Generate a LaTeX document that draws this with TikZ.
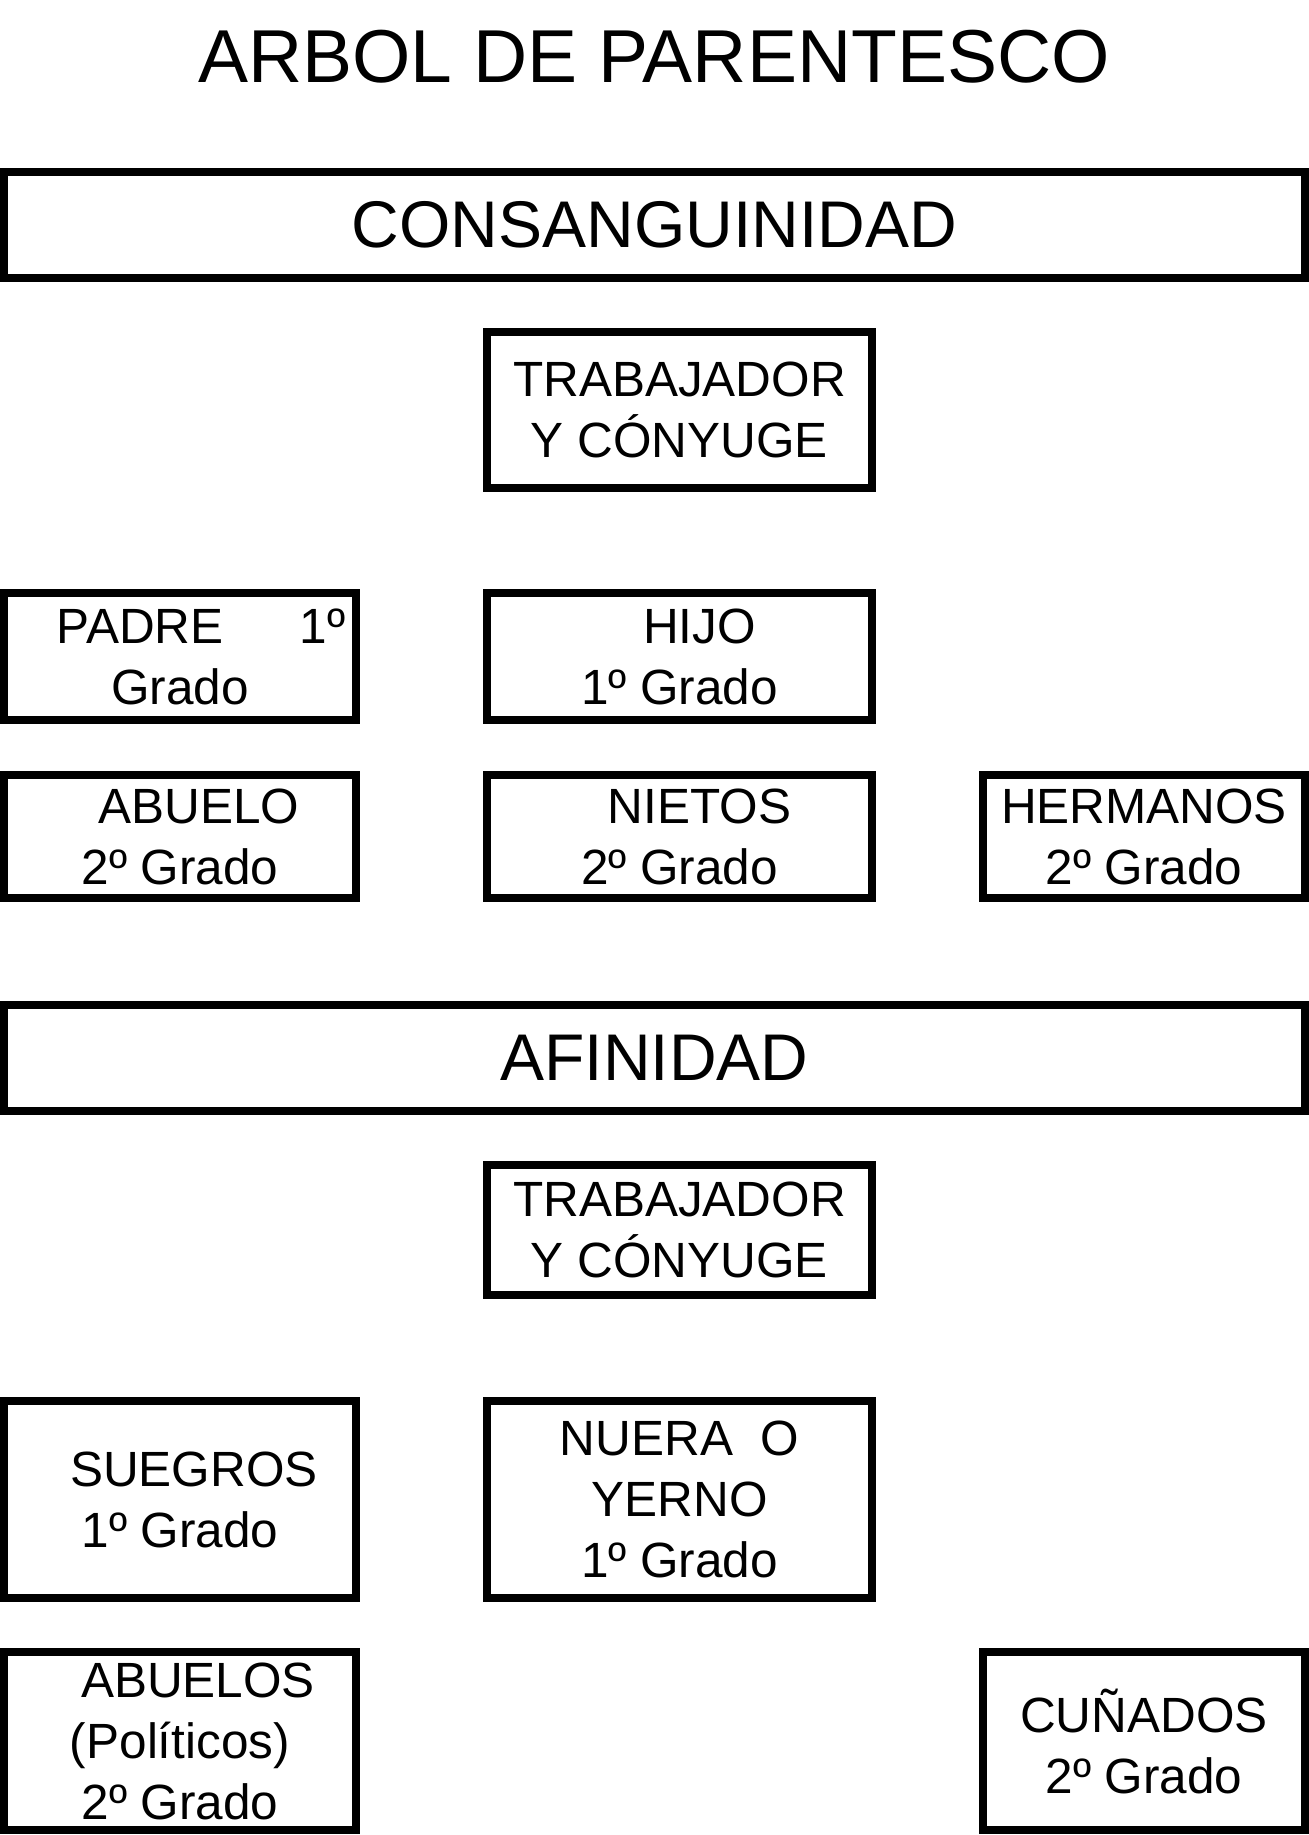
\documentclass[tikz,border=0pt]{standalone}
\usepackage{fontspec}
\setmainfont{Liberation Sans}

\tikzset{
  kinbox/.style={draw, line width=4pt, inner sep=0pt, align=center,
    font=\fontsize{24.75pt}{30.5pt}\selectfont},
  leftbox/.style={kinbox, minimum width=176pt},
  midbox/.style={kinbox, minimum width=192.5pt},
  rightbox/.style={kinbox, minimum width=161pt},
  headbox/.style={draw, line width=4pt, inner sep=0pt,
    minimum width=650.5pt, minimum height=53pt,
    font=\fontsize{33pt}{40pt}\selectfont},
}

\begin{document}
\begin{tikzpicture}[x=0.5pt, y=-0.5pt]
  \useasboundingbox (0,0) rectangle (1309,1835);
  \node[anchor=base, font=\fontsize{37.5pt}{44pt}\selectfont] (titulo) at (654,83) {ARBOL DE PARENTESCO};

  % consanguinidad
  \node[headbox] (consang) at (654.5,225) {CONSANGUINIDAD};
  \node[midbox, minimum height=77.75pt] (trab) at (679.5,409.75) {TRABAJADOR\\Y CÓNYUGE};
  \node[leftbox, minimum height=63.5pt] (padre) at (180,656.5) {\hspace*{21pt}PADRE\hspace{38pt}1º\\Grado};
  \node[midbox, minimum height=63.5pt] (hijo) at (679.5,656.5) {\hspace*{20pt}HIJO\\1º Grado};
  \node[leftbox, minimum height=61.5pt] (abuelo) at (180,836.5) {\hspace*{19pt}ABUELO\\2º Grado};
  \node[midbox, minimum height=61.5pt] (nietos) at (679.5,836.5) {\hspace*{20pt}NIETOS\\2º Grado};
  \node[rightbox, minimum height=61.5pt] (hermanos) at (1144,836.5) {HERMANOS\\2º Grado};

  % afinidad
  \node[headbox] (afin) at (654.5,1057.5) {AFINIDAD};
  \node[midbox, minimum height=65pt] (trabaf) at (679.5,1230) {TRABAJADOR\\Y CÓNYUGE};
  \node[leftbox, minimum height=98.5pt] (suegros) at (180,1499.5) {\hspace*{14pt}SUEGROS\\1º Grado};
  \node[midbox, minimum height=98.5pt] (nuera) at (679.5,1499.5) {NUERA\ \ O\\YERNO\\1º Grado};
  \node[leftbox, minimum height=89pt] (abuelos) at (180,1741) {\hspace*{18pt}ABUELOS\\(Políticos)\\2º Grado};
  \node[rightbox, minimum height=89pt] (cunados) at (1144,1741) {CUÑADOS\\2º Grado};
\end{tikzpicture}
\end{document}
